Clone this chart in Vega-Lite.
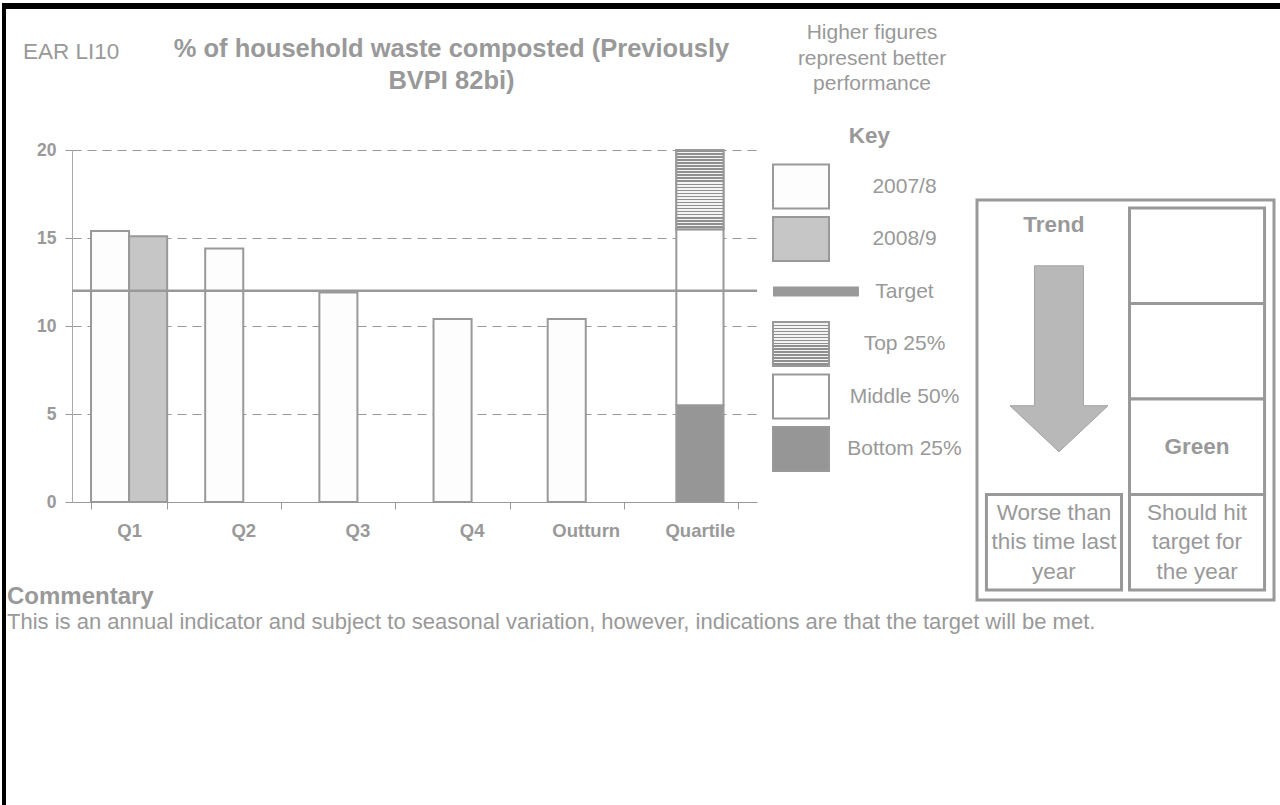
{
  "$schema": "https://vega.github.io/schema/vega-lite/v6.json",
  "background": "white",
  "padding": {"left": 2, "top": 3, "right": 0, "bottom": 0},
  "columns": 5,
  "bounds": "flush",
  "spacing": 0,
  "params": [
    {
      "name": "checker",
      "value": {
        "gradient": "linear", "x1": 0, "y1": 0, "x2": 0, "y2": 1,
        "stops": [
          {"offset": 0, "color": "#8f8f8f"}, {"offset": 0.01923, "color": "#8f8f8f"}, {"offset": 0.01923, "color": "#f4f4f4"}, {"offset": 0.03846, "color": "#f4f4f4"},
          {"offset": 0.03846, "color": "#8f8f8f"}, {"offset": 0.05769, "color": "#8f8f8f"}, {"offset": 0.05769, "color": "#f4f4f4"}, {"offset": 0.07692, "color": "#f4f4f4"},
          {"offset": 0.07692, "color": "#8f8f8f"}, {"offset": 0.09615, "color": "#8f8f8f"}, {"offset": 0.09615, "color": "#f4f4f4"}, {"offset": 0.11538, "color": "#f4f4f4"},
          {"offset": 0.11538, "color": "#8f8f8f"}, {"offset": 0.13462, "color": "#8f8f8f"}, {"offset": 0.13462, "color": "#f4f4f4"}, {"offset": 0.15385, "color": "#f4f4f4"},
          {"offset": 0.15385, "color": "#8f8f8f"}, {"offset": 0.17308, "color": "#8f8f8f"}, {"offset": 0.17308, "color": "#f4f4f4"}, {"offset": 0.19231, "color": "#f4f4f4"},
          {"offset": 0.19231, "color": "#8f8f8f"}, {"offset": 0.21154, "color": "#8f8f8f"}, {"offset": 0.21154, "color": "#f4f4f4"}, {"offset": 0.23077, "color": "#f4f4f4"},
          {"offset": 0.23077, "color": "#8f8f8f"}, {"offset": 0.25, "color": "#8f8f8f"}, {"offset": 0.25, "color": "#f4f4f4"}, {"offset": 0.26923, "color": "#f4f4f4"},
          {"offset": 0.26923, "color": "#8f8f8f"}, {"offset": 0.28846, "color": "#8f8f8f"}, {"offset": 0.28846, "color": "#f4f4f4"}, {"offset": 0.30769, "color": "#f4f4f4"},
          {"offset": 0.30769, "color": "#8f8f8f"}, {"offset": 0.32692, "color": "#8f8f8f"}, {"offset": 0.32692, "color": "#f4f4f4"}, {"offset": 0.34615, "color": "#f4f4f4"},
          {"offset": 0.34615, "color": "#8f8f8f"}, {"offset": 0.36538, "color": "#8f8f8f"}, {"offset": 0.36538, "color": "#f4f4f4"}, {"offset": 0.38462, "color": "#f4f4f4"},
          {"offset": 0.38462, "color": "#8f8f8f"}, {"offset": 0.40385, "color": "#8f8f8f"}, {"offset": 0.40385, "color": "#f4f4f4"}, {"offset": 0.42308, "color": "#f4f4f4"},
          {"offset": 0.42308, "color": "#8f8f8f"}, {"offset": 0.44231, "color": "#8f8f8f"}, {"offset": 0.44231, "color": "#f4f4f4"}, {"offset": 0.46154, "color": "#f4f4f4"},
          {"offset": 0.46154, "color": "#8f8f8f"}, {"offset": 0.48077, "color": "#8f8f8f"}, {"offset": 0.48077, "color": "#f4f4f4"}, {"offset": 0.5, "color": "#f4f4f4"},
          {"offset": 0.5, "color": "#8f8f8f"}, {"offset": 0.51923, "color": "#8f8f8f"}, {"offset": 0.51923, "color": "#f4f4f4"}, {"offset": 0.53846, "color": "#f4f4f4"},
          {"offset": 0.53846, "color": "#8f8f8f"}, {"offset": 0.55769, "color": "#8f8f8f"}, {"offset": 0.55769, "color": "#f4f4f4"}, {"offset": 0.57692, "color": "#f4f4f4"},
          {"offset": 0.57692, "color": "#8f8f8f"}, {"offset": 0.59615, "color": "#8f8f8f"}, {"offset": 0.59615, "color": "#f4f4f4"}, {"offset": 0.61538, "color": "#f4f4f4"},
          {"offset": 0.61538, "color": "#8f8f8f"}, {"offset": 0.63462, "color": "#8f8f8f"}, {"offset": 0.63462, "color": "#f4f4f4"}, {"offset": 0.65385, "color": "#f4f4f4"},
          {"offset": 0.65385, "color": "#8f8f8f"}, {"offset": 0.67308, "color": "#8f8f8f"}, {"offset": 0.67308, "color": "#f4f4f4"}, {"offset": 0.69231, "color": "#f4f4f4"},
          {"offset": 0.69231, "color": "#8f8f8f"}, {"offset": 0.71154, "color": "#8f8f8f"}, {"offset": 0.71154, "color": "#f4f4f4"}, {"offset": 0.73077, "color": "#f4f4f4"},
          {"offset": 0.73077, "color": "#8f8f8f"}, {"offset": 0.75, "color": "#8f8f8f"}, {"offset": 0.75, "color": "#f4f4f4"}, {"offset": 0.76923, "color": "#f4f4f4"},
          {"offset": 0.76923, "color": "#8f8f8f"}, {"offset": 0.78846, "color": "#8f8f8f"}, {"offset": 0.78846, "color": "#f4f4f4"}, {"offset": 0.80769, "color": "#f4f4f4"},
          {"offset": 0.80769, "color": "#8f8f8f"}, {"offset": 0.82692, "color": "#8f8f8f"}, {"offset": 0.82692, "color": "#f4f4f4"}, {"offset": 0.84615, "color": "#f4f4f4"},
          {"offset": 0.84615, "color": "#8f8f8f"}, {"offset": 0.86538, "color": "#8f8f8f"}, {"offset": 0.86538, "color": "#f4f4f4"}, {"offset": 0.88462, "color": "#f4f4f4"},
          {"offset": 0.88462, "color": "#8f8f8f"}, {"offset": 0.90385, "color": "#8f8f8f"}, {"offset": 0.90385, "color": "#f4f4f4"}, {"offset": 0.92308, "color": "#f4f4f4"},
          {"offset": 0.92308, "color": "#8f8f8f"}, {"offset": 0.94231, "color": "#8f8f8f"}, {"offset": 0.94231, "color": "#f4f4f4"}, {"offset": 0.96154, "color": "#f4f4f4"},
          {"offset": 0.96154, "color": "#8f8f8f"}, {"offset": 0.98077, "color": "#8f8f8f"}, {"offset": 0.98077, "color": "#f4f4f4"}, {"offset": 1, "color": "#f4f4f4"}
        ]
      }
    },
    {
      "name": "checkerKey",
      "value": {
        "gradient": "linear", "x1": 0, "y1": 0, "x2": 0, "y2": 1,
        "stops": [
          {"offset": 0, "color": "#8f8f8f"}, {"offset": 0.03333, "color": "#8f8f8f"}, {"offset": 0.03333, "color": "#f4f4f4"}, {"offset": 0.06667, "color": "#f4f4f4"},
          {"offset": 0.06667, "color": "#8f8f8f"}, {"offset": 0.1, "color": "#8f8f8f"}, {"offset": 0.1, "color": "#f4f4f4"}, {"offset": 0.13333, "color": "#f4f4f4"},
          {"offset": 0.13333, "color": "#8f8f8f"}, {"offset": 0.16667, "color": "#8f8f8f"}, {"offset": 0.16667, "color": "#f4f4f4"}, {"offset": 0.2, "color": "#f4f4f4"},
          {"offset": 0.2, "color": "#8f8f8f"}, {"offset": 0.23333, "color": "#8f8f8f"}, {"offset": 0.23333, "color": "#f4f4f4"}, {"offset": 0.26667, "color": "#f4f4f4"},
          {"offset": 0.26667, "color": "#8f8f8f"}, {"offset": 0.3, "color": "#8f8f8f"}, {"offset": 0.3, "color": "#f4f4f4"}, {"offset": 0.33333, "color": "#f4f4f4"},
          {"offset": 0.33333, "color": "#8f8f8f"}, {"offset": 0.36667, "color": "#8f8f8f"}, {"offset": 0.36667, "color": "#f4f4f4"}, {"offset": 0.4, "color": "#f4f4f4"},
          {"offset": 0.4, "color": "#8f8f8f"}, {"offset": 0.43333, "color": "#8f8f8f"}, {"offset": 0.43333, "color": "#f4f4f4"}, {"offset": 0.46667, "color": "#f4f4f4"},
          {"offset": 0.46667, "color": "#8f8f8f"}, {"offset": 0.5, "color": "#8f8f8f"}, {"offset": 0.5, "color": "#f4f4f4"}, {"offset": 0.53333, "color": "#f4f4f4"},
          {"offset": 0.53333, "color": "#8f8f8f"}, {"offset": 0.56667, "color": "#8f8f8f"}, {"offset": 0.56667, "color": "#f4f4f4"}, {"offset": 0.6, "color": "#f4f4f4"},
          {"offset": 0.6, "color": "#8f8f8f"}, {"offset": 0.63333, "color": "#8f8f8f"}, {"offset": 0.63333, "color": "#f4f4f4"}, {"offset": 0.66667, "color": "#f4f4f4"},
          {"offset": 0.66667, "color": "#8f8f8f"}, {"offset": 0.7, "color": "#8f8f8f"}, {"offset": 0.7, "color": "#f4f4f4"}, {"offset": 0.73333, "color": "#f4f4f4"},
          {"offset": 0.73333, "color": "#8f8f8f"}, {"offset": 0.76667, "color": "#8f8f8f"}, {"offset": 0.76667, "color": "#f4f4f4"}, {"offset": 0.8, "color": "#f4f4f4"},
          {"offset": 0.8, "color": "#8f8f8f"}, {"offset": 0.83333, "color": "#8f8f8f"}, {"offset": 0.83333, "color": "#f4f4f4"}, {"offset": 0.86667, "color": "#f4f4f4"},
          {"offset": 0.86667, "color": "#8f8f8f"}, {"offset": 0.9, "color": "#8f8f8f"}, {"offset": 0.9, "color": "#f4f4f4"}, {"offset": 0.93333, "color": "#f4f4f4"},
          {"offset": 0.93333, "color": "#8f8f8f"}, {"offset": 0.96667, "color": "#8f8f8f"}, {"offset": 0.96667, "color": "#f4f4f4"}, {"offset": 1, "color": "#f4f4f4"}
        ]
      }
    }
  ],
  "config": {
    "font": "Liberation Sans",
    "view": {"stroke": null},
    "title": {"color": "#999999"},
    "axis": {"labelColor": "#999999", "titleColor": "#999999", "domainColor": "#999999", "tickColor": "#999999"},
    "text": {"color": "#999999"}
  },
  "datasets": {
    "performance": [
      {"period": "Q1", "series": "2007/8", "value": 15.4},
      {"period": "Q1", "series": "2008/9", "value": 15.1},
      {"period": "Q2", "series": "2007/8", "value": 14.4},
      {"period": "Q3", "series": "2007/8", "value": 11.9},
      {"period": "Q4", "series": "2007/8", "value": 10.4},
      {"period": "Outturn", "series": "2007/8", "value": 10.4}
    ],
    "quartiles": [
      {"period": "Quartile", "series": "Bottom 25%", "low": 0, "high": 5.5},
      {"period": "Quartile", "series": "Middle 50%", "low": 5.5, "high": 15.5},
      {"period": "Quartile", "series": "Top 25%", "low": 15.5, "high": 20}
    ],
    "target": [{"series": "Target", "value": 12}],
    "panel": [
      {"column": "Trend", "cell": "caption", "note": ["Worse than", "this time last", "year"]},
      {"column": "Status", "cell": "caption", "note": ["Should hit", "target for", "the year"]},
      {"column": "Status", "cell": "Red", "note": ""},
      {"column": "Status", "cell": "Amber", "note": ""},
      {"column": "Status", "cell": "Green", "note": "Green"}
    ],
    "trend": [{"column": "Trend", "heading": "Trend", "direction": "down"}]
  },
  "concat": [
    {"width": 4, "height": 6, "data": {"values": []}, "mark": "point", "view": {"fill": "#000000", "stroke": null}},
    {"width": 66, "height": 6, "data": {"values": []}, "mark": "point", "view": {"fill": "#000000", "stroke": null}},
    {"width": 685, "height": 6, "data": {"values": []}, "mark": "point", "view": {"fill": "#000000", "stroke": null}},
    {"width": 220, "height": 6, "data": {"values": []}, "mark": "point", "view": {"fill": "#000000", "stroke": null}},
    {"width": 303, "height": 6, "data": {"values": []}, "mark": "point", "view": {"fill": "#000000", "stroke": null}},

    {"width": 4, "height": 141, "data": {"values": []}, "mark": "point", "view": {"fill": "#000000", "stroke": null}},
    {"width": 66, "height": 1, "data": {"values": []}, "mark": "point"},
    {"width": 685, "height": 1, "data": {"values": []}, "mark": "point"},
    {"width": 220, "height": 1, "data": {"values": []}, "mark": "point"},
    {"width": 303, "height": 1, "data": {"values": []}, "mark": "point"},

    {"width": 4, "height": 482, "data": {"values": []}, "mark": "point", "view": {"fill": "#000000", "stroke": null}},
    {
      "width": 66, "height": 1, "data": {"values": []}, "mark": "point",
      "title": {"text": "EAR LI10", "anchor": "start", "frame": "group", "dx": 17, "offset": 87, "fontSize": 22.5, "fontWeight": "normal", "color": "#999999"}
    },
    {
      "width": 685,
      "height": 352,
      "title": {
        "text": ["% of household waste composted (Previously", "BVPI 82bi)"],
        "fontSize": 25.5, "fontWeight": "bold", "color": "#999999",
        "anchor": "middle", "frame": "group", "dx": 37, "offset": 47, "lineHeight": 32
      },
      "layer": [
        {
          "data": {"name": "performance"},
          "mark": {"type": "bar", "stroke": "#999999", "strokeWidth": 2},
          "encoding": {
            "x": {
              "field": "period", "type": "nominal",
              "scale": {"domain": ["Q1", "Q2", "Q3", "Q4", "Outturn", "Quartile"], "paddingInner": 0.3333, "paddingOuter": 0.1667},
              "axis": {
                "title": null, "labelAngle": 0, "labelFontSize": 18.5, "labelFontWeight": "bold",
                "labelPadding": 12, "tickBand": "extent", "tickSize": 7, "grid": false,
                "domainColor": "#999999", "tickColor": "#999999"
              }
            },
            "xOffset": {"field": "series", "type": "nominal", "scale": {"domain": ["2007/8", "2008/9"], "paddingInner": 0, "paddingOuter": 0}},
            "y": {
              "field": "value", "type": "quantitative",
              "scale": {"domain": [0, 20], "nice": false},
              "axis": {
                "values": [0, 5, 10, 15, 20], "grid": true, "gridDash": [9, 6], "gridColor": "#999999", "gridWidth": 1,
                "domainColor": "#aaaaaa", "domainWidth": 1, "tickColor": "#999999", "tickSize": 7,
                "labelFontSize": 17.5, "labelFontWeight": "bold", "labelPadding": 9, "title": null
              }
            },
            "fill": {
              "field": "series", "type": "nominal",
              "scale": {
                "domain": ["2007/8", "2008/9", "Target", "Top 25%", "Middle 50%", "Bottom 25%"],
                "range": ["#fdfdfd", "#c6c6c6", "#999999", {"expr": "checkerKey"}, "#ffffff", "#969696"]
              },
              "legend": {
                "orient": "none", "legendX": 775.5, "legendY": 122,
                "title": "Key", "titleFontSize": 22.5, "titleFontWeight": "bold", "titleColor": "#999999",
                "titleAnchor": "middle", "titlePadding": 15.5,
                "labelFontSize": 21, "labelColor": "#999999", "labelAlign": "center", "labelOffset": 80,
                "symbolSize": 2025, "symbolStrokeColor": "#999999", "symbolStrokeWidth": 2,
                "symbolOpacity": 1, "rowPadding": -0.5,
                "encode": {
                  "symbols": {
                    "update": {
                      "shape": {"signal": "datum.value === 'Target' ? 'M-1.2,-0.18H2.53V0.18H-1.2ZM0,-0.978L0,-0.978M0,0.978L0,0.978' : 'M-1.244,-0.978H1.244V0.978H-1.244Z'"},
                      "stroke": {"value": "#999999"},
                      "strokeWidth": {"value": 2},
                      "opacity": {"value": 1}
                    }
                  }
                }
              }
            }
          }
        },
        {
          "data": {"name": "quartiles"},
          "mark": {"type": "bar", "stroke": "#999999", "strokeWidth": 2, "width": {"band": 0.62}},
          "encoding": {
            "x": {"field": "period", "type": "nominal"},
            "y": {"field": "low", "type": "quantitative"},
            "y2": {"field": "high"},
            "fill": {"field": "series", "type": "nominal"}
          }
        },
        {
          "data": {"name": "quartiles"},
          "transform": [{"filter": "datum.series === 'Top 25%'"}],
          "mark": {"type": "bar", "stroke": "#999999", "strokeWidth": 2, "width": {"band": 0.62}, "fill": {"expr": "checker"}},
          "encoding": {
            "x": {"field": "period", "type": "nominal"},
            "y": {"field": "low", "type": "quantitative"},
            "y2": {"field": "high"}
          }
        },
        {
          "data": {"name": "target"},
          "mark": {"type": "rule", "stroke": "#999999", "strokeWidth": 2.5},
          "encoding": {"y": {"field": "value", "type": "quantitative"}}
        }
      ]
    },
    {
      "width": 220, "height": 1, "data": {"values": []}, "mark": "point",
      "title": {
        "text": ["Higher figures", "represent better", "performance"],
        "fontSize": 21, "fontWeight": "normal", "color": "#999999",
        "anchor": "middle", "frame": "group", "dx": 5, "offset": 56, "lineHeight": 25.5
      }
    },
    {
      "width": 297, "height": 450,
      "resolve": {"scale": {"x": "independent", "y": "independent"}},
      "layer": [
        {
          "data": {"name": "trend"},
          "mark": {"type": "rect", "fill": "#ffffff", "stroke": "#999999", "strokeWidth": 3},
          "encoding": {
            "x": {"datum": 0, "type": "quantitative", "scale": {"domain": [0, 1]}, "axis": null},
            "x2": {"datum": 1},
            "y": {"datum": 0, "type": "quantitative", "scale": {"domain": [0, 1], "range": [50, 450]}, "axis": null},
            "y2": {"datum": 1}
          }
        },
        {
          "data": {"name": "panel"},
          "encoding": {
            "x": {"field": "column", "type": "nominal", "scale": {"domain": ["Trend", "Status"], "paddingInner": 0.056, "paddingOuter": 0.066}, "axis": null},
            "y": {"field": "cell", "type": "nominal", "scale": {"domain": ["Red", "Amber", "Green", "caption"], "range": [58, 440], "paddingInner": 0, "paddingOuter": 0}, "axis": null}
          },
          "layer": [
            {"mark": {"type": "rect", "fill": "#ffffff", "stroke": "#999999", "strokeWidth": 3}},
            {
              "transform": [{"filter": "datum.cell === 'caption'"}],
              "mark": {"type": "text", "fontSize": 22.5, "lineHeight": 29.5, "baseline": "middle", "dy": -29.5, "color": "#999999"},
              "encoding": {"text": {"field": "note"}}
            },
            {
              "transform": [{"filter": "datum.cell === 'Green'"}],
              "mark": {"type": "text", "fontSize": 22.5, "fontWeight": "bold", "baseline": "middle", "color": "#999999"},
              "encoding": {"text": {"field": "note"}}
            },
            {
              "data": {"name": "trend"},
              "mark": {"type": "text", "fontSize": 22.5, "fontWeight": "bold", "baseline": "middle", "color": "#999999", "dy": 17},
              "encoding": {
                "y": {"datum": "Red", "bandPosition": 0},
                "text": {"field": "heading"}
              }
            },
            {
              "data": {"name": "trend"},
              "mark": {"type": "point", "filled": true, "fill": "#b8b8b8", "stroke": "#a3a3a3", "strokeWidth": 1, "opacity": 1, "size": 34596},
              "encoding": {
                "y": {"datum": "Amber"},
                "shape": {
                  "field": "direction", "type": "nominal",
                  "scale": {"domain": ["down"], "range": ["M-0.209,-0.919L0.317,-0.919L0.317,0.586L0.581,0.586L0.054,1.081L-0.473,0.586L-0.209,0.586Z"]},
                  "legend": null
                }
              }
            }
          ]
        }
      ]
    },

    {"width": 4, "height": 173, "data": {"values": []}, "mark": "point", "view": {"fill": "#000000", "stroke": null}},
    {
      "width": 66, "height": 1, "data": {"values": []}, "mark": "point",
      "title": {
        "text": "Commentary",
        "subtitle": "This is an annual indicator and subject to seasonal variation, however, indications are that the target will be met.",
        "anchor": "start", "frame": "group", "dx": 1, "offset": -1,
        "fontSize": 24, "fontWeight": "bold", "color": "#999999",
        "subtitleFontSize": 22, "subtitleFontWeight": "normal", "subtitleColor": "#999999", "subtitlePadding": 3
      }
    }
  ]
}
